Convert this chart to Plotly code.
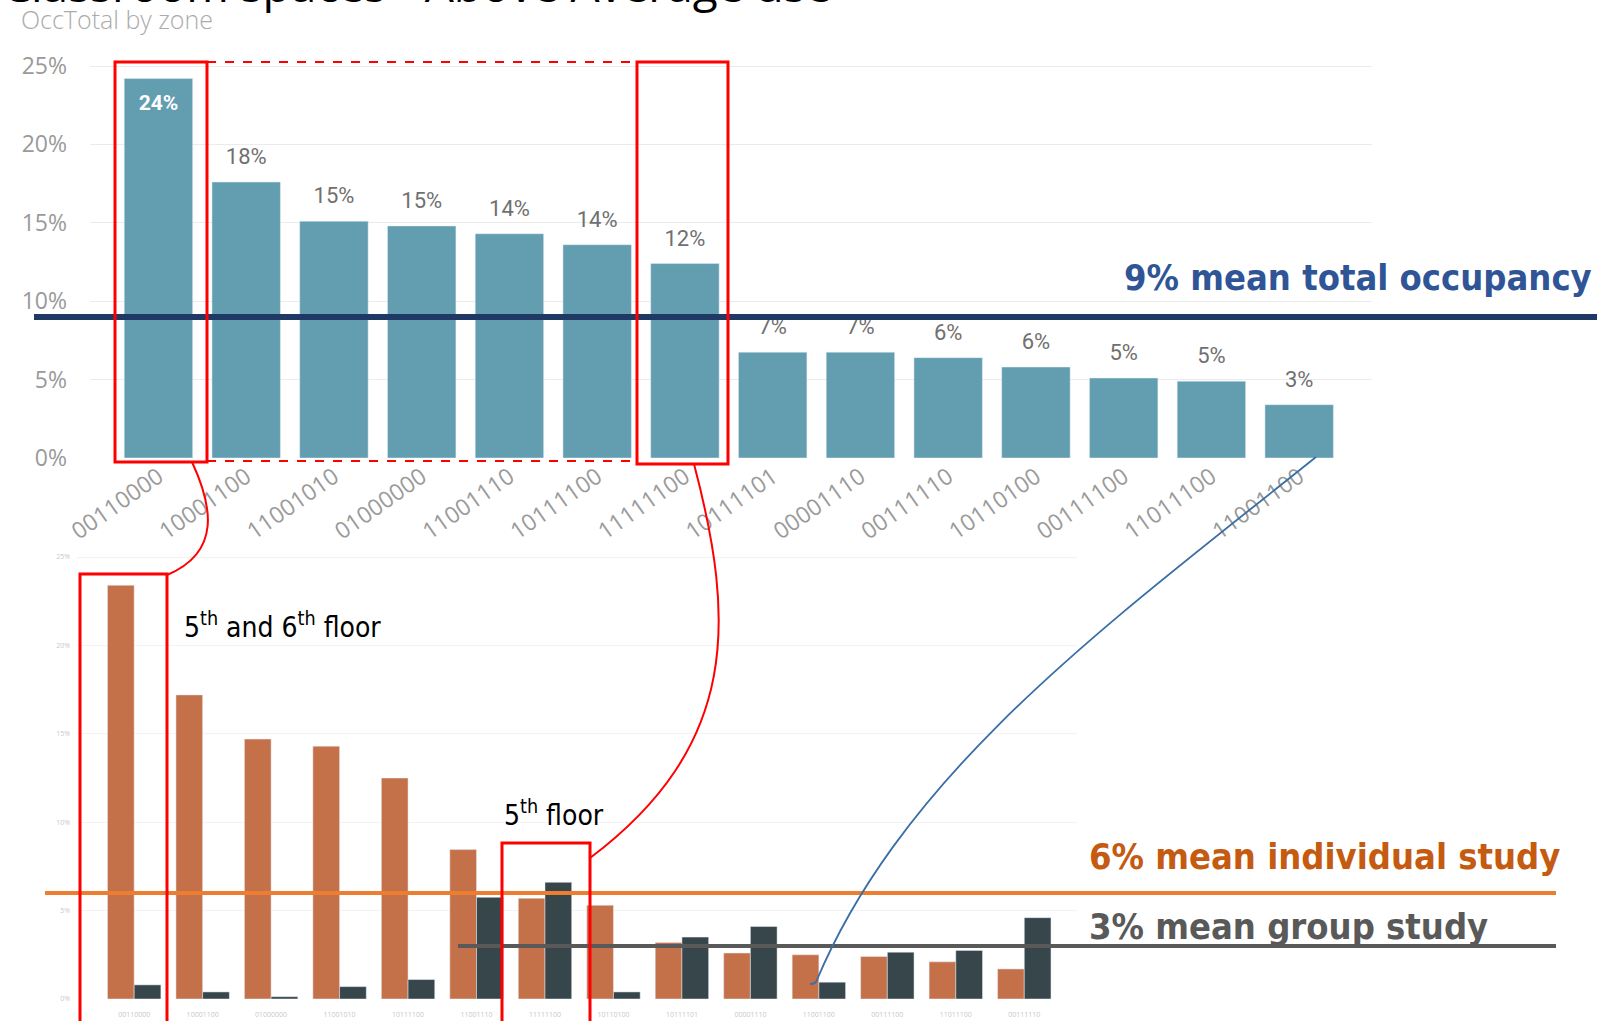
import plotly.graph_objects as go

# ---- data -------------------------------------------------------------
TOP_ZONES = ["00110000", "10001100", "11001010", "01000000", "11001110",
             "10111100", "11111100", "10111101", "00001110", "00111110",
             "10110100", "00111100", "11011100", "11001100"]
TOP_OCC = [24.2, 17.6, 15.1, 14.8, 14.3, 13.6, 12.4,
           6.75, 6.75, 6.4, 5.8, 5.1, 4.9, 3.4]

LOW_ZONES = ["00110000", "10001100", "01000000", "11001010", "10111100",
             "11001110", "11111100", "10110100", "10111101", "00001110",
             "11001100", "00111100", "11011100", "00111110"]
LOW_INDIVIDUAL = [23.4, 17.2, 14.7, 14.3, 12.5, 8.45, 5.7,
                  5.3, 3.2, 2.6, 2.5, 2.4, 2.1, 1.7]
LOW_GROUP = [0.8, 0.4, 0.13, 0.7, 1.1, 5.75, 6.6,
             0.4, 3.5, 4.1, 0.95, 2.65, 2.75, 4.6]

Y_TICKS = [0, 5, 10, 15, 20, 25]
Y_TICK_TEXT = ["0%", "5%", "10%", "15%", "20%", "25%"]

MEAN_TOTAL = 9
MEAN_INDIVIDUAL = 6
MEAN_GROUP = 3

# ---- styling ----------------------------------------------------------
W, H = 1600, 1021
TEAL = "#629DB0"
ORANGE_BAR = "#C4714A"
DARK_BAR = "#37464B"
RED = "#FF0000"
NAVY = "#203864"
NAVY_TEXT = "#2F5597"
ORANGE_LINE = "#ED7D31"
ORANGE_TEXT = "#C55A11"
GRAY = "#595959"
NARROW = "Liberation Sans Narrow, DejaVu Sans Condensed, sans-serif"
UI = "Open Sans, Segoe UI, sans-serif"


def px(x):
    return x / W


def py(y):
    return 1 - y / H


def path(points):
    """Cubic bezier path in paper coordinates from pixel control points."""
    (x0, y0), rest = points[0], points[1:]
    d = f"M {px(x0)} {py(y0)}"
    for i in range(0, len(rest), 3):
        c = " ".join(f"{px(a)} {py(b)}" for a, b in rest[i:i + 3])
        d += f" C {c}"
    return d


fig = go.Figure()

# top chart: total occupancy by zone
fig.add_trace(go.Bar(x=TOP_ZONES, y=TOP_OCC, marker_color=TEAL,
                     xaxis="x", yaxis="y", hoverinfo="skip"))
fig.add_trace(go.Scatter(
    x=TOP_ZONES[1:], y=TOP_OCC[1:], mode="markers+text",
    text=[f"{v:.0f}%" for v in TOP_OCC[1:]], textposition="top center",
    marker=dict(size=18, color="rgba(0,0,0,0)"),
    textfont=dict(family="Roboto, sans-serif", size=22, color="#707070"),
    xaxis="x", yaxis="y", hoverinfo="skip"))
fig.add_trace(go.Scatter(
    x=TOP_ZONES[:1], y=TOP_OCC[:1], mode="markers+text",
    text=[f"<b>{v:.0f}%</b>" for v in TOP_OCC[:1]], textposition="bottom center",
    marker=dict(size=24, color="rgba(0,0,0,0)"),
    textfont=dict(family="Roboto, sans-serif", size=21, color="white"),
    xaxis="x", yaxis="y", hoverinfo="skip"))

# bottom chart: individual vs group study
fig.add_trace(go.Bar(x=LOW_ZONES, y=LOW_INDIVIDUAL, marker_color=ORANGE_BAR,
                     xaxis="x2", yaxis="y2", hoverinfo="skip"))
fig.add_trace(go.Bar(x=LOW_ZONES, y=LOW_GROUP, marker_color=DARK_BAR,
                     xaxis="x2", yaxis="y2", hoverinfo="skip"))

top_unit = (458 - 66) / 25.0
low_unit = (999 - 557) / 25.0

fig.update_layout(
    width=W, height=H, margin=dict(l=0, r=0, t=0, b=0),
    paper_bgcolor="white", plot_bgcolor="white",
    showlegend=False, barmode="group", bargap=0.22, bargroupgap=0,
    xaxis=dict(domain=[px(90), px(1372)], range=[-0.78, 13.83],
               anchor="y", tickangle=-35, showgrid=False, zeroline=False,
               automargin=False,
               tickfont=dict(family=UI, size=23, color="#9A9A9A"),
               ticks="", showline=False),
    yaxis=dict(domain=[py(458), py(40)], range=[0, (458 - 40) / top_unit],
               anchor="x", tickvals=Y_TICKS, ticktext=Y_TICK_TEXT,
               gridcolor="#EBEBEB", gridwidth=1, zeroline=False,
               automargin=False, ticklabelstandoff=22,
               tickfont=dict(family=UI, size=23, color="#9A9A9A")),
    xaxis2=dict(domain=[px(77), px(1077)], range=[-0.835, 13.77],
                anchor="y2", tickangle=0, showgrid=False, zeroline=False,
                automargin=False, ticklabelstandoff=10,
                tickfont=dict(family=UI, size=7, color="#C8C8C8")),
    yaxis2=dict(domain=[py(999), py(545)], range=[0, (999 - 545) / low_unit],
                anchor="x2", tickvals=Y_TICKS, ticktext=Y_TICK_TEXT,
                gridcolor="#F3F3F3", gridwidth=1, zeroline=False,
                automargin=False, ticklabelstandoff=6,
                tickfont=dict(family=UI, size=7, color="#C8C8C8")),
)

shapes = []
# mean lines
shapes.append(dict(type="line", xref="paper", yref="y",
                   x0=px(34), x1=px(1597), y0=MEAN_TOTAL, y1=MEAN_TOTAL,
                   line=dict(color=NAVY, width=6)))
shapes.append(dict(type="line", xref="paper", yref="y2",
                   x0=px(45), x1=px(1556), y0=MEAN_INDIVIDUAL, y1=MEAN_INDIVIDUAL,
                   line=dict(color=ORANGE_LINE, width=4)))
shapes.append(dict(type="line", xref="paper", yref="y2",
                   x0=px(458), x1=px(1556), y0=MEAN_GROUP, y1=MEAN_GROUP,
                   line=dict(color=GRAY, width=4)))

# highlight boxes
for x0, x1, y0, y1 in [(115, 207, 62, 462), (637, 728, 62, 464),
                       (80, 167, 574, 1040), (502, 590, 843, 1040)]:
    shapes.append(dict(type="rect", xref="paper", yref="paper",
                       x0=px(x0), x1=px(x1), y0=py(y1), y1=py(y0),
                       line=dict(color=RED, width=3)))
for yy in (62, 461):
    shapes.append(dict(type="line", xref="paper", yref="paper",
                       x0=px(207), x1=px(637), y0=py(yy), y1=py(yy),
                       line=dict(color=RED, width=2, dash="dash")))

# connectors between the two charts
shapes.append(dict(type="path", xref="paper", yref="paper",
                   path=path([(192, 462), (212, 505), (222, 552), (167, 575)]),
                   line=dict(color=RED, width=2)))
shapes.append(dict(type="path", xref="paper", yref="paper",
                   path=path([(694, 464), (735, 620), (740, 745), (590, 858)]),
                   line=dict(color=RED, width=2)))
shapes.append(dict(type="path", xref="paper", yref="paper",
                   path=path([(1316, 457), (1110, 622), (905, 770), (816, 982),
                              (814, 984), (811, 984), (810, 984)]),
                   line=dict(color="#3A6EA5", width=1.8)))
fig.update_layout(shapes=shapes)

ann = []
ann.append(dict(text="Classroom spaces - Above Average use", xref="paper", yref="paper",
                x=px(0), y=py(5), xanchor="left", yanchor="middle", yshift=21,
                showarrow=False,
                font=dict(family=UI, size=46, color="black")))
ann.append(dict(text="OccTotal by zone", xref="paper", yref="paper",
                x=px(19), y=py(19), xanchor="left", yanchor="middle", showarrow=False,
                font=dict(family=UI, size=25, color="#ABABAB", weight=300)))
ann.append(dict(text=f"{MEAN_TOTAL}% mean total occupancy", xref="paper", yref="y",
                x=px(1122), y=MEAN_TOTAL, yshift=39, xanchor="left", yanchor="middle",
                showarrow=False,
                font=dict(family=NARROW, size=36, color=NAVY_TEXT, weight="bold")))
ann.append(dict(text=f"{MEAN_INDIVIDUAL}% mean individual study", xref="paper", yref="y2",
                x=px(1087), y=MEAN_INDIVIDUAL, yshift=36, xanchor="left", yanchor="middle",
                showarrow=False,
                font=dict(family=NARROW, size=36, color=ORANGE_TEXT, weight="bold")))
ann.append(dict(text=f"{MEAN_GROUP}% mean group study", xref="paper", yref="y2",
                x=px(1087), y=MEAN_GROUP, yshift=19, xanchor="left", yanchor="middle",
                showarrow=False,
                font=dict(family=NARROW, size=36, color=GRAY, weight="bold")))
ann.append(dict(text="5<sup>th</sup> and 6<sup>th</sup> floor", xref="paper", yref="paper",
                x=px(182), y=py(625), xanchor="left", yanchor="middle", showarrow=False,
                font=dict(family=NARROW, size=28, color="black")))
ann.append(dict(text="5<sup>th</sup> floor", xref="paper", yref="paper",
                x=px(502), y=py(813), xanchor="left", yanchor="middle", showarrow=False,
                font=dict(family=NARROW, size=28, color="black")))
fig.update_layout(annotations=ann)

fig.write_html("out.html")
